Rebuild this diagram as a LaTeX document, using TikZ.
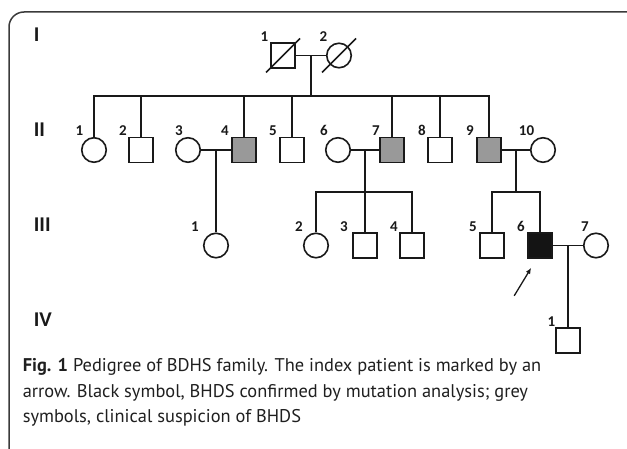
\documentclass[tikz,border=0pt]{standalone}
\usepackage{fontspec}
\newfontfamily\pedfont{Carlito}
\newfontfamily\capfont{PT Sans}
\usetikzlibrary{calc,arrows.meta}
\definecolor{symgrey}{HTML}{999999}
\definecolor{framegrey}{HTML}{3A3A3A}
\def\numlabel(#1:#2)#3{\node[num, anchor=base east] at ([shift={(#2, -1)}]#1.north) {#3};}

\tikzset{
	male/.style={draw, rectangle, minimum width=24pt, minimum height=25pt, inner sep=0pt},
	female/.style={draw, circle, minimum size=24.5pt, inner sep=0pt},
	affected/.style={male, fill=symgrey},
	index/.style={male, fill=black!92},
	num/.style={font=\pedfont\bfseries\fontsize{15}{15}\selectfont, inner sep=0pt},
	gen/.style={font=\pedfont\bfseries\fontsize{21}{21}\selectfont, anchor=west, inner sep=0pt},
	caption/.style={font=\capfont\fontsize{18.4}{25.5}\selectfont, align=left, inner sep=0pt, text=black!88},
}

\begin{document}
\begin{tikzpicture}[x=1pt, y=-1pt, line width=1.6pt, color=black!90]
		\useasboundingbox (0, 0) rectangle (627, 449);
		
		%%%%% FRAME %%%%%
		\begin{scope}
			\clip (0, 0) rectangle (627, 449);
			\draw[line width=1.5pt, color=framegrey, rounded corners=15pt] (9, 470) -- (9, 12) -- (650, 12);
		\end{scope}
		
		%%%%% GENERATIONS %%%%%
		\node[gen] (genI) at (33, 35) {I};
		\node[gen] (genII) at (33, 130) {II};
		\node[gen] (genIII) at (33, 225) {III};
		\node[gen] (genIV) at (33, 320) {IV};
		
		%%%%% I %%%%%
		\node[male] (I1) at (283, 55.5) {};
		\node[female] (I2) at (339, 55.5) {};
		\draw (I1) -- (I2);
		\foreach \p in {I1, I2}
			\draw ([shift={(-17, 17)}]\p.center) -- ([shift={(17, -17)}]\p.center);
		
		%%%%% II %%%%%
		\node[female] (II1) at (94, 150) {};
		\node[male] (II2) at (141, 150) {};
		\node[female] (II3) at (188, 150) {};
		\node[affected] (II4) at (244, 150) {};
		\node[male] (II5) at (292, 150) {};
		\node[female] (II6) at (338, 150) {};
		\node[affected] (II7) at (392, 150) {};
		\node[male] (II8) at (440, 150) {};
		\node[affected] (II9) at (489, 150) {};
		\node[female] (II10) at (543, 150) {};
		
		\coordinate (mI) at ($(I1)!0.5!(I2)$);
		\coordinate (sI) at ($(mI)+(0, 40.5)$);
		\draw (mI) -- (sI);
		\draw (II1) |- (sI) -| (II9);
		\foreach \n in {2, 4, 5, 7, 8}
			\draw (II\n) -- (II\n |- sI);
		
		\draw (II3) -- (II4);
		\draw (II6) -- (II7);
		\draw (II9) -- (II10);
		
		%%%%% III %%%%%
		\node[female] (III1) at (216, 245.5) {};
		\node[female] (III2) at (316, 245.5) {};
		\node[male] (III3) at (365, 245.5) {};
		\node[male] (III4) at (412, 245.5) {};
		\node[male] (III5) at (492, 245.5) {};
		\node[index] (III6) at (540, 245.5) {};
		\node[female] (III7) at (596, 245.5) {};
		
		\coordinate (m34) at ($(II3)!0.5!(II4)$);
		\draw (m34) -- (III1);
		
		\coordinate (m67) at ($(II6)!0.5!(II7)$);
		\coordinate (s67) at ($(m67)+(0, 42)$);
		\draw (m67) -- (s67);
		\draw (III2) |- (s67) -| (III4);
		\draw (s67) -- (III3);
		
		\coordinate (m910) at ($(II9)!0.5!(II10)$);
		\coordinate (s910) at ($(m910)+(0, 42)$);
		\draw (m910) -- (s910);
		\draw (III5) |- (s910) -| (III6);
		
		\draw (III6) -- (III7);
		
		%%%%% IV %%%%%
		\node[male] (IV1) at (568, 340.5) {};
		\coordinate (m67b) at ($(III6)!0.5!(III7)$);
		\draw (m67b) -- (IV1);
		
		%%%%% INDEX ARROW %%%%%
		\coordinate (arrhead) at ([shift={(4, 9)}]III6.south west);
		\coordinate (arrtail) at ([shift={(-13, 37)}]III6.south west);
		\draw[-{Latex[length=6pt, width=5pt]}, line width=1.3pt] (arrtail) -- (arrhead);
		
		%%%%% NUMBERS %%%%%
		\numlabel(I1:-14){1}
		\numlabel(I2:-11){2}
		\numlabel(II1:-10){1}
		\numlabel(II2:-13.5){2}
		\numlabel(II3:-4.5){3}
		\numlabel(II4:-14.5){4}
		\numlabel(II5:-14.5){5}
		\numlabel(II6:-9.5){6}
		\numlabel(II7:-11.5){7}
		\numlabel(II8:-13.5){8}
		\numlabel(II9:-14.5){9}
		\numlabel(II10:-8){10}
		\numlabel(III1:-16.5){1}
		\numlabel(III2:-12.5){2}
		\numlabel(III3:-16.5){3}
		\numlabel(III4:-13.5){4}
		\numlabel(III5:-14.5){5}
		\numlabel(III6:-14.5){6}
		\numlabel(III7:-6.5){7}
		\numlabel(IV1:-12){1}
		
		%%%%% CAPTION %%%%%
		\node[caption, anchor=north west] (cap) at (22, 358) {\textbf{Fig. 1} Pedigree of BDHS family. The index patient is marked by an\\arrow. Black symbol, BHDS confirmed by mutation analysis; grey\\symbols, clinical suspicion of BHDS};
		
	\end{tikzpicture}
\end{document}
